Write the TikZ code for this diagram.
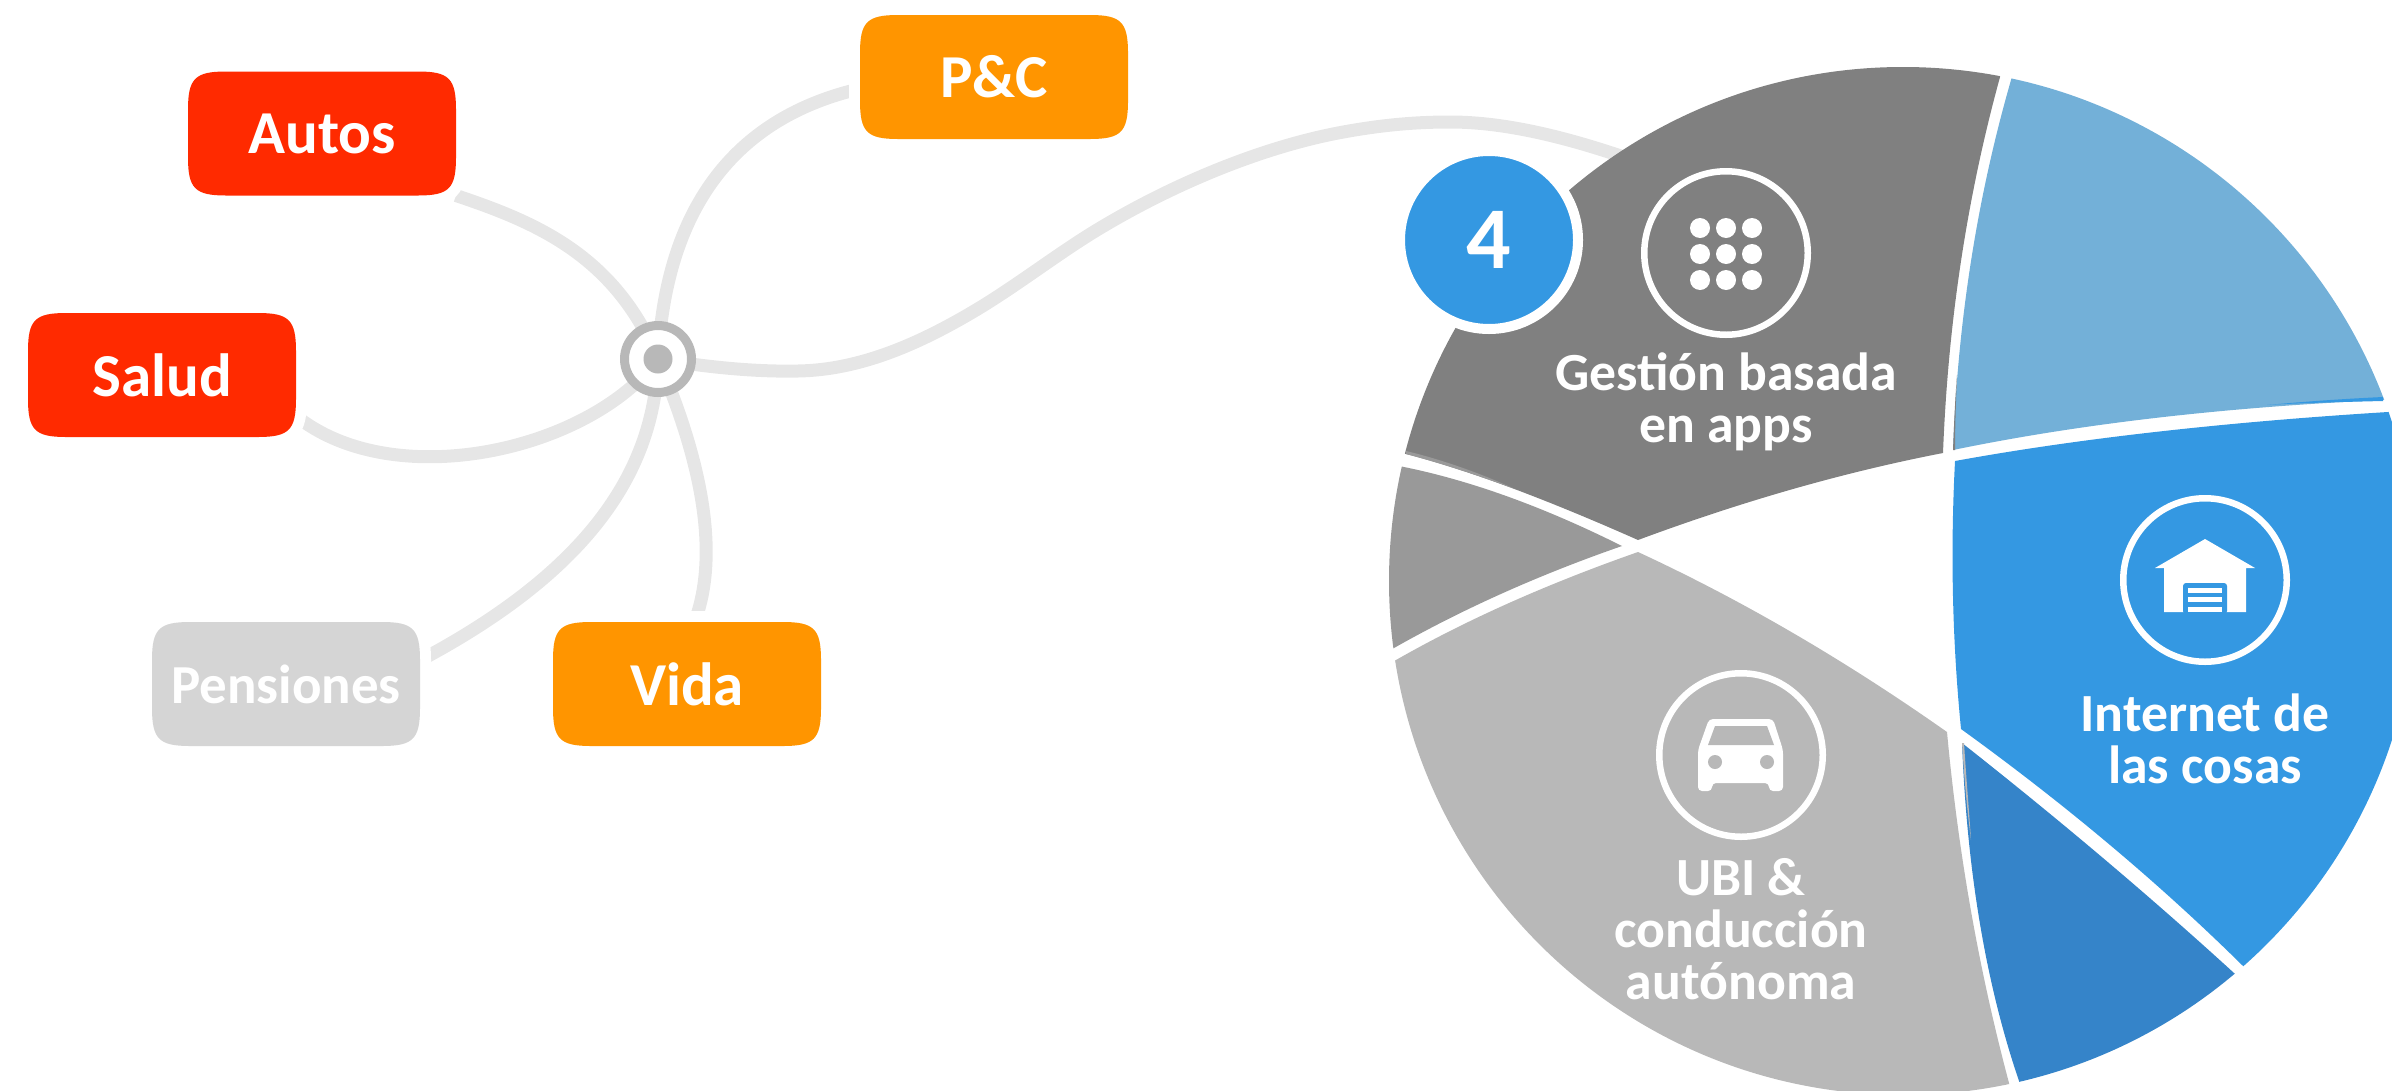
\documentclass[tikz,border=0pt]{standalone}
\usepackage{fontspec}
\setmainfont{Carlito}
\pgfdeclarelayer{bg}
\pgfdeclarelayer{plates}
\pgfsetlayers{bg,plates,main}
\definecolor{redc}{HTML}{FF2A00}
\definecolor{orangec}{HTML}{FF9500}
\definecolor{paleg}{HTML}{D5D5D5}
\definecolor{darkg}{HTML}{808080}
\definecolor{midg}{HTML}{999999}
\definecolor{lightg}{HTML}{B8B8B8}
\definecolor{linkg}{HTML}{E6E6E6}
\definecolor{lblue}{HTML}{73B0D8}
\definecolor{mblue}{HTML}{3498E2}
\definecolor{dblue}{HTML}{3584C9}
\tikzset{
  box/.style={rectangle,text=white,minimum width=268pt,minimum height=124pt,inner sep=0pt,outer sep=0pt,
    font=\fontsize{61}{61}\selectfont\bfseries},
  plate/.style={fill=#1,preaction={draw=white,line width=22pt}},
  link/.style={draw=linkg,line width=13pt},
  iconring/.style={circle,draw=white,line width=6.5pt,minimum size=163.5pt,inner sep=0pt,outer sep=0pt},
  slicelabel/.style={text=white,align=center,inner sep=0pt,font=\fontsize{53.7}{52}\selectfont\bfseries},
  ink/.style={fill=white,draw=none}
}
\newcommand{\squirclebox}[2]{%
  \begin{pgfonlayer}{plates}
  \begin{scope}[shift={(#1.north west)}]
  \path[plate=#2] (38,0) -- (230,0) .. controls (261,0) and (268,7) .. (268,38) -- (268,86)
    .. controls (268,117) and (261,124) .. (230,124) -- (38,124)
    .. controls (7,124) and (0,117) .. (0,86) -- (0,38) .. controls (0,7) and (7,0) .. (38,0) -- cycle;
  \end{scope}
  \end{pgfonlayer}}
\begin{document}
\begin{tikzpicture}[x=1pt,y=-1pt]
\useasboundingbox (0,0) rectangle (2392,1090);
% boxes
\node[box] (autos) at (322,133.5) {Autos};
\node[box] (pc) at (994,77) {P\&C};
\node[box] (salud) at (162,375) {Salud};
\node[box,font=\fontsize{55}{55}\selectfont\bfseries] (pens) at (286,684) {Pensiones};
\node[box] (vida) at (687,684) {Vida};
\squirclebox{autos}{redc}
\squirclebox{pc}{orangec}
\squirclebox{salud}{redc}
\squirclebox{pens}{paleg}
\squirclebox{vida}{orangec}
% hub
\node[circle,fill=white,draw=lightg,line width=9pt,minimum size=67pt,inner sep=0pt,outer sep=0pt] (hub) at (658,359) {};
\node[circle,fill=lightg,minimum size=29pt,inner sep=0pt,outer sep=0pt] (hubdot) at (hub.center) {};
\coordinate (pieend) at (1660,170);
% connectors
\begin{pgfonlayer}{bg}
\draw[link] (hub.center) .. controls (615,255) and (535,222) .. (autos.south east);
\draw[link] (hub.center) .. controls (665,220) and (725,120) .. (pc.-175);
\draw[link] (hub.center) .. controls (590,450) and (395,495) .. (salud.-17);
\draw[link] (hub.center) .. controls (655,470) and (590,570) .. (pens.10);
\draw[link] (hub.center) .. controls (706,471.3) and (718,559) .. (vida.83);
\draw[link] (hub.center) .. controls (700,366) and (750,372) .. (798,371)
  .. controls (860,370) and (920,344) .. (981,307)
  .. controls (1020,283) and (1055,256) .. (1092,233)
  .. controls (1170,185) and (1260,148) .. (1338,133)
  .. controls (1375,126) and (1410,122) .. (1450,122)
  .. controls (1510,122) and (1580,140) .. (pieend);
\end{pgfonlayer}
% pie
\begin{scope}
\clip (1903,581) circle (514pt);
\fill[darkg] (2003,55) -- (2000,77) .. controls (1967,197) and (1948,322.3) .. (1943,453)
  .. controls (1844.7,472) and (1743,501) .. (1638,540) .. controls (1543.3,498) and (1466,469.3) .. (1406,454)
  -- (1370,443) -- (1370,40) -- (2003,40) -- cycle;
\fill[lblue] (2016,58) -- (2011,80) .. controls (1977,198) and (1957.7,321.3) .. (1953,450)
  .. controls (2079,424) and (2222.3,407.3) .. (2383,400) -- (2430,398) -- (2430,40) -- (2016,40) -- cycle;
\fill[mblue] (1955,461) .. controls (2077.3,438.7) and (2221.7,422.3) .. (2388,412) -- (2430,410) -- (2430,1010) -- (2290,1010)
  -- (2243,966) .. controls (2159.7,883.7) and (2065.7,804.7) .. (1961,729) .. controls (1952.3,641) and (1950.3,551.7) .. (1955,461) -- cycle;
\fill[dblue] (1962,743) .. controls (2059.3,819.7) and (2150,896.3) .. (2234,973) -- (2270,1005) -- (2270,1120) -- (2026,1120)
  -- (2019,1081) .. controls (1986,984.3) and (1967,871.7) .. (1962,743) -- cycle;
\fill[lightg] (1638,552) .. controls (1741.7,600) and (1844.7,660) .. (1947,732) .. controls (1958.3,853.7) and (1979,970.7) .. (2009,1083)
  -- (2016,1120) -- (1370,1120) -- (1370,672) -- (1396,660) .. controls (1466,620) and (1546.7,584) .. (1638,552) -- cycle;
\fill[midg] (1404,467) .. controls (1471.3,480.7) and (1544,507) .. (1622,546) .. controls (1539.3,574.7) and (1463.3,608.7) .. (1394,648)
  -- (1370,660) -- (1370,460) -- cycle;
% thin slivers along the cuts
\fill[midg] (1406,451) .. controls (1440,459) and (1480,473) .. (1515,489) .. controls (1480,476) and (1440,463) .. (1406,454) -- cycle;
\fill[darkg] (1957,375) .. controls (1955,400) and (1954,425) .. (1953,450) -- (1955,450) .. controls (1955,425) and (1956,400) .. (1957,375) -- cycle;
\fill[mblue] (2267,405) .. controls (2300,402) and (2340,399) .. (2383,397) -- (2383,401) .. controls (2340,402) and (2300,403) .. (2267,405) -- cycle;
\fill[lightg] (1962,743) .. controls (1964,775) and (1967,810) .. (1971,840) .. controls (1969,810) and (1966,775) .. (1964,743) -- cycle;
\end{scope}
% badge
\node[circle,fill=mblue,draw=white,line width=10pt,minimum size=178pt,inner sep=0pt,outer sep=0pt,text=white,font=\fontsize{88}{88}\selectfont\bfseries] (four) at (1489,240) {\raisebox{-3pt}{4}};
% icon rings
\node[iconring] (appsicon) at (1726,253) {};
\node[iconring] (homeicon) at (2205,580) {};
\node[iconring] (caricon) at (1741,755) {};
% dots
\foreach \dx in {-26,0,26}\foreach \dy in {-26,0,26}
  \fill[ink] (1726+\dx,254+\dy) circle (10pt);
% garage
\fill[ink] (2205,539) -- (2255,568) -- (2246,568) -- (2246,612) -- (2164,612) -- (2164,568) -- (2155,568) -- cycle;
\fill[mblue,rounded corners=3pt] (2183,614) -- (2183,583) -- (2227,583) -- (2227,614) -- cycle;
\fill[ink] (2188,588) rectangle (2222,593);
\fill[ink] (2188,597) rectangle (2222,602);
\fill[ink] (2188,607) rectangle (2222,612);
% car
\fill[ink,rounded corners=4pt] (1709,719) -- (1773,719) -- (1783,750) -- (1783,791) -- (1769,791) -- (1769,783)
  -- (1712,783) -- (1712,791) -- (1698,791) -- (1698,750) -- cycle;
\fill[lightg] (1715,726) -- (1767,726) -- (1774,745) -- (1708,745) -- cycle;
\fill[lightg] (1715,762) circle (7pt);
\fill[lightg] (1767,762) circle (7pt);
% labels
\node[slicelabel] (gest) at (1726,402) {Gestión basada\\en apps};
\node[slicelabel] (iot) at (2205,739) {Internet de\\las cosas};
\node[slicelabel] (ubi) at (1741,929) {UBI \&\\conducción\\autónoma};
\end{tikzpicture}
\end{document}
